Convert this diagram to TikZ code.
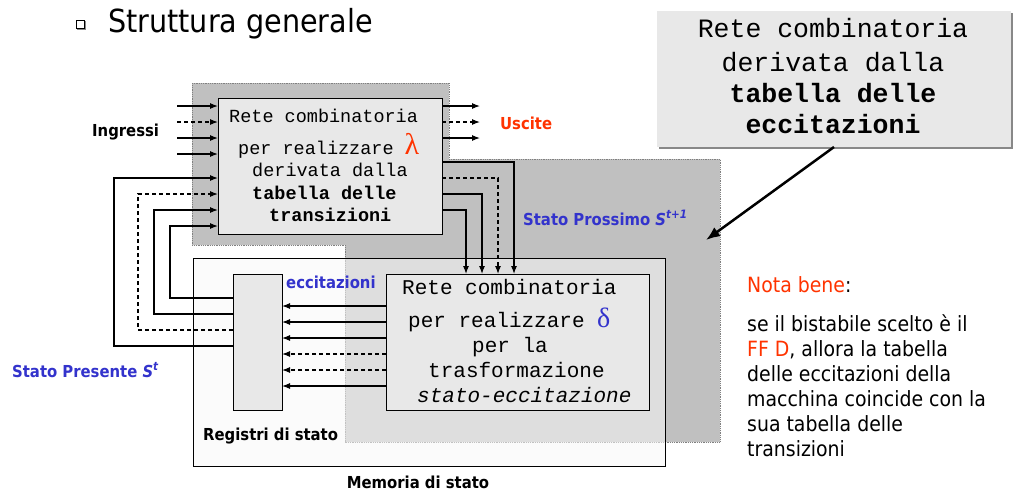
\documentclass[tikz,border=0pt]{standalone}
\usepackage{fontspec}
\usetikzlibrary{arrows.meta,calc}
\IfFontExistsTF{DejaVu Sans Condensed}{\setmainfont{DejaVu Sans Condensed}}{\setmainfont{DejaVu Sans}}
\newfontfamily\monof{Liberation Mono}
\newfontfamily\greekf{Liberation Serif}
\newcommand\fs[1]{\fontsize{#1}{#1}\selectfont}
\definecolor{regiongray}{HTML}{C0C0C0}
\definecolor{boxgray}{HTML}{E8E8E8}
\definecolor{shadowgray}{HTML}{888888}
\definecolor{statoblue}{HTML}{3333CC}
\definecolor{alertred}{HTML}{FF3300}
\tikzset{
  block/.style={draw=black, fill=boxgray, line width=1pt, inner sep=0pt, outer sep=0pt},
  memory/.style={draw=black, fill=black!3, fill opacity=0.55, line width=1pt, inner sep=0pt, outer sep=0pt},
  lbl/.style={inner sep=0pt, anchor=base west},
  clbl/.style={inner sep=0pt, anchor=base},
  monotext/.style={lbl, font=\monof\fs{18.5}},
  deltatext/.style={lbl, font=\monof\fs{21}},
  calltext/.style={clbl, font=\monof\fs{26.5}},
  tag/.style={lbl, font=\bfseries\fs{16.5}},
  notetext/.style={lbl, font=\fs{21}},
  sig/.style={line width=1.1pt, -{Latex[length=8pt,width=6pt]}},
  dsig/.style={sig, dash pattern=on 4pt off 3pt},
}
\begin{document}
\begin{tikzpicture}[x=1pt,y=-1pt]
\useasboundingbox (0,0) rectangle (1013,491);

% title with its bullet
\fill[shadowgray] (77,21) rectangle (86,30);
\node[draw=black, fill=white, line width=0.8pt, minimum size=8pt, inner sep=0pt] (bullet) at (80,24) {};
\node[lbl, font=\fs{31.8}] (title) at (108,32) {Struttura generale};

% shaded area of the combinational logic
\draw[fill=regiongray, draw=gray, densely dotted, line width=0.8pt]
  (192,83) -- (449,83) -- (449,159) -- (720,159) -- (720,442) -- (345,442) -- (345,245) -- (192,245) -- cycle;

% state memory
\node[memory, minimum width=472pt, minimum height=208pt] (mem) at (429,362) {};

% blocks
\node[block, minimum width=224pt, minimum height=136pt] (lam) at (330,166) {};
\node[block, minimum width=263pt, minimum height=136pt] (delta) at (517.5,342) {};
\node[block, minimum width=49pt, minimum height=136pt] (reg) at (257.5,342) {};

% output network text
\node[monotext] (l1) at (229,122) {Rete combinatoria};
\node[monotext] (l2) at (238,154) {per realizzare {\greekf\fs{30}\color{alertred}λ}};
\node[monotext] (l3) at (252,176) {derivata dalla};
\node[monotext, font=\monof\bfseries\fs{18.5}] (l4) at (252,199) {tabella delle};
\node[monotext, font=\monof\bfseries\fs{18.5}] (l5) at (269,221) {transizioni};

% next-state network text
\node[deltatext] (d1) at (402,294) {Rete combinatoria};
\node[deltatext] (d2) at (408,327) {per realizzare {\greekf\fs{28}\color{statoblue}δ}};
\node[deltatext] (d3) at (472,352) {per la};
\node[deltatext] (d4) at (428,377) {trasformazione};
\node[deltatext, font=\monof\itshape\fs{21}] (d5) at (417,402) {stato-eccitazione};

% inputs
\foreach \y/\s in {106/sig,122/dsig,138/sig,154/sig}
  \draw[\s] (177,\y) -- (lam.west |- 0,\y);
% outputs
\foreach \y/\s in {106/sig,122/dsig,138/sig}
  \draw[\s] (lam.east |- 0,\y) -- (480,\y);

% next state lines into the delta network
\draw[sig]  (lam.east |- 0,162) -| (delta.north -| 514,0);
\draw[dsig] (lam.east |- 0,178) -| (delta.north -| 498,0);
\draw[sig]  (lam.east |- 0,194) -| (delta.north -| 482,0);
\draw[sig]  (lam.east |- 0,210) -| (delta.north -| 466,0);

% excitations into the registers
\foreach \y/\s in {306/sig,322/sig,338/sig,354/dsig,370/dsig,386/sig}
  \draw[\s] (delta.west |- 0,\y) -- (reg.east |- 0,\y);

% present state fed back
\draw[sig]  (reg.west |- 0,298) -| (170,226) -- (lam.west |- 0,226);
\draw[sig]  (reg.west |- 0,314) -| (154,210) -- (lam.west |- 0,210);
\draw[dsig] (reg.west |- 0,330) -| (138,194) -- (lam.west |- 0,194);
\draw[sig]  (reg.west |- 0,346) -| (114,178) -- (lam.west |- 0,178);

% labels
\node[tag] (ingr) at (92,136) {Ingressi};
\node[tag, text=alertred] (usc) at (500,129) {Uscite};
\node[tag, text=statoblue] (ecc) at (286,288) {eccitazioni};
\node[tag, text=statoblue] (spres) at (12,377) {Stato Presente \textit{S}\textsuperscript{\itshape t}};
\node[tag, text=statoblue] (sprox) at (523,225) {Stato Prossimo \textit{S}\textsuperscript{\itshape t+1}};
\node[tag] (regl) at (203,440) {Registri di stato};
\node[tag, anchor=base] (meml) at (418,488) {Memoria di stato};

% callout
\fill[shadowgray] (659,13) rectangle (1013,149);
\node[fill=boxgray, inner sep=0pt, outer sep=0pt, minimum width=354pt, minimum height=136pt] (call) at (834,79) {};
\node[calltext] (c1) at (833,37) {Rete combinatoria};
\node[calltext] (c2) at (833,71) {derivata dalla};
\node[calltext, font=\monof\bfseries\fs{26.5}] (c3) at (833,102) {tabella delle};
\node[calltext, font=\monof\bfseries\fs{26.5}] (c4) at (833,133) {eccitazioni};
\draw[line width=2.5pt, -{Latex[length=14pt,width=11pt]}] (call.south) -- (706,240);

% note
\node[notetext] (nb) at (747,292) {\textcolor{alertred}{Nota bene}:};
\node[notetext] (p1) at (747,331) {se il bistabile scelto è il};
\node[notetext] (p2) at (747,356) {\textcolor{alertred}{FF D}, allora la tabella};
\node[notetext] (p3) at (747,381) {delle eccitazioni della};
\node[notetext] (p4) at (747,406) {macchina coincide con la};
\node[notetext] (p5) at (747,431) {sua tabella delle};
\node[notetext] (p6) at (747,456) {transizioni};
\end{tikzpicture}
\end{document}
